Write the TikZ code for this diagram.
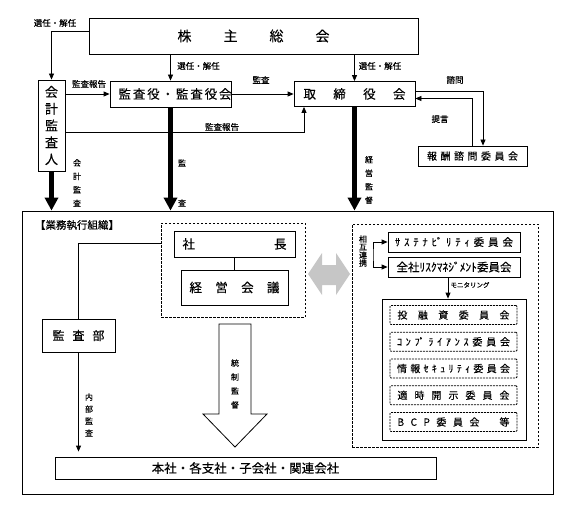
\documentclass[tikz,border=0pt]{standalone}
\usepackage{fontspec}
\setmainfont{Noto Sans CJK JP}[FakeBold=0.3]
\usetikzlibrary{arrows.meta}
\newcommand{\spr}[2]{\makebox[#1][s]{#2}}

\begin{document}
\begin{tikzpicture}[x=1pt, y=-1pt,
        box/.style 2 args={draw, line width=0.8pt, inner sep=0pt, minimum width=#1, minimum height=#2},
        dbox/.style 2 args={box={#1}{#2}, dash pattern=on 2.5pt off 1.5pt},
        cbox/.style={box={127pt}{19pt}, dash pattern=on 2pt off 1pt, rounded corners=1pt, font=\fontsize{10}{10}\selectfont},
        lbl/.style={inner sep=0pt, font=\fontsize{8.5}{8.5}\selectfont},
        vlbl/.style={inner sep=0pt, align=center, font=\fontsize{8}{13.5}\selectfont},
        arr/.style={line width=0.8pt, -{Triangle[length=6pt,width=5pt]}},
        big/.style={line width=5pt, -{Triangle[length=13pt,width=13pt]}}]
        \useasboundingbox (0,0) rectangle (575,513);

        % top level
        \node[box={329pt}{36pt}, font=\fontsize{14}{14}\selectfont] (soukai) at (253.5,36) {\spr{152pt}{株 主 総 会}};
        \node[box={27pt}{91pt}, align=center, font=\fontsize{13}{16.8}\selectfont] (kaikei) at (51.5,125.5) {会\\計\\監\\査\\人};
        \node[box={121pt}{26pt}, font=\fontsize{12.5}{12.5}\selectfont] (kansa) at (170.5,94) {\spr{104pt}{監 査 役 ・ 監 査 役 会}};
        \node[box={121pt}{25pt}, font=\fontsize{12.5}{12.5}\selectfont] (tori) at (354.5,94) {\spr{102pt}{取 締 役 会}};
        \node[box={109pt}{20pt}, font=\fontsize{10}{10}\selectfont] (hoshu) at (472.5,156) {\spr{91pt}{報 酬 諮 問 委 員 会}};

        \draw[arr] ([yshift=5pt]soukai.west) -| (kaikei.north);
        \draw[arr] (kansa.north |- soukai.south) -- (kansa.north);
        \draw[arr] (tori.north |- soukai.south) -- (tori.north);
        \draw[arr] (kaikei.east |- kansa.west) -- (kansa.west);
        \draw[arr] (kansa.east) -- (tori.west);
        \draw[arr] ([yshift=-6.5pt]kaikei.east) -| ([xshift=-50.5pt]tori.south);
        \draw[arr] ([yshift=2.5pt]tori.east) -| ([xshift=10.5pt]hoshu.north);
        \draw[arr] (hoshu.north) |- ([yshift=-4.5pt]tori.east);

        \node[lbl] (l1) at (55,23) {選任・解任};
        \node[lbl] (l2) at (198.5,66) {選任・解任};
        \node[lbl] (l3) at (380,66) {選任・解任};
        \node[lbl] (l4) at (89,84) {監査報告};
        \node[lbl] (l5) at (261,80) {監査};
        \node[lbl] (l6) at (222,127) {監査報告};
        \node[lbl] (l7) at (455,80) {諮問};
        \node[lbl] (l8) at (440,119) {提言};

        % executive organisation
        \node[box={531pt}{283pt}] (outer) at (287.5,352.5) {};
        \node[inner sep=0pt, font=\fontsize{10.5}{10.5}\selectfont] (ttl) at (77,225) {【業務執行組織】};

        \draw[big] (kaikei.south) -- (kaikei.south |- outer.north);
        \draw[big] (kansa.south) -- (kansa.south |- outer.north);
        \draw[big] (tori.south) -- (tori.south |- outer.north);
        \node[vlbl] (v1) at (77,183) {会\\計\\監\\査};
        \node[vlbl] (v2) at (182,183) {監\\[26.5pt]査};
        \node[vlbl] (v3) at (369,180) {経\\営\\監\\督};

        \node[dbox={144pt}{94pt}] (grpA) at (233,270) {};
        \node[box={121pt}{26pt}, font=\fontsize{12.5}{12.5}\selectfont] (shacho) at (234.5,244) {\spr{104pt}{社 長}};
        \node[box={107pt}{35pt}, font=\fontsize{12.5}{12.5}\selectfont] (keiei) at (234.5,287.5) {\spr{90pt}{経 営 会 議}};
        \draw[line width=0.8pt] (shacho.south) -- (keiei.north);

        \node[box={73pt}{33pt}, font=\fontsize{12}{12}\selectfont] (kansabu) at (78.5,335.5) {\spr{52pt}{監 査 部}};
        \draw[line width=0.8pt] ([yshift=27pt]grpA.west) -| (kansabu.north);

        \node[box={381pt}{22pt}, font=\fontsize{12.5}{12.5}\selectfont] (honsha) at (245.5,468) {本社・各支社・子会社・関連会社};
        \draw[arr, shorten >=5pt] (kansabu.south) -- (kansabu.south |- honsha.north);
        \node[vlbl, font=\fontsize{8}{12}\selectfont] (v4) at (89,415) {内\\部\\監\\査};

        % control arrow
        \draw[line width=0.8pt] (219,324) -- (251,324) -- (251,414) -- (267,414) -- (235,447) -- (203,414) -- (219,414) -- cycle;
        \node[vlbl, font=\fontsize{8}{14}\selectfont] (v5) at (235,384) {統\\制\\監\\督};

        % two way arrow
        \fill[gray!45] (308,274) -- (322,253) -- (322,265) -- (336,265) -- (336,253) -- (350,274) -- (336,295) -- (336,285) -- (322,285) -- (322,295) -- cycle;

        % committees
        \node[dbox={186pt}{223pt}] (grpB) at (445,335.5) {};
        \node[box={132pt}{20pt}, font=\fontsize{10.5}{10.5}\selectfont] (sus) at (454,242) {\spr{118pt}{ｻ ｽ ﾃ ﾅ ﾋﾞ ﾘ ﾃ ｨ 委 員 会}};
        \node[box={132pt}{20pt}, font=\fontsize{11.5}{11.5}\selectfont] (zensha) at (454,267) {全社ﾘｽｸﾏﾈｼﾞﾒﾝﾄ委員会};
        \coordinate (brk) at (373,255);
        \draw[line width=0.8pt, {Triangle[length=6pt,width=5pt]}-{Triangle[length=6pt,width=5pt]}] (sus.west) -| (brk) |- (zensha.west);
        \node[vlbl, font=\fontsize{8}{8}\selectfont] (v6) at (363,251) {相\\互\\連\\携};

        \node[box={144pt}{141pt}] (inner) at (454,369.5) {};
        \draw[arr] ([xshift=-6pt]zensha.south) -- ([xshift=-6pt]zensha.south |- inner.north);
        \node[inner sep=0pt, font=\fontsize{6.5}{6.5}\selectfont] (l9) at (470,285) {モニタリング};

        \node[cbox] (c1) at (453.5,315) {\spr{112pt}{投 融 資 委 員 会}};
        \node[cbox] (c2) at (453.5,341.75) {\spr{113pt}{ｺ ﾝ ﾌﾟ ﾗ ｲ ｱ ﾝ ｽ 委 員 会}};
        \node[cbox] (c3) at (453.5,368.5) {\spr{113pt}{情 報 ｾ ｷ ｭ ﾘ ﾃ ｨ 委 員 会}};
        \node[cbox] (c4) at (453.5,395.25) {\spr{112pt}{適 時 開 示 委 員 会}};
        \node[cbox] (c5) at (453.5,422) {\spr{112pt}{\spr{82pt}{B C P 委 員 会}\hfill 等}};
    \end{tikzpicture}
\end{document}
